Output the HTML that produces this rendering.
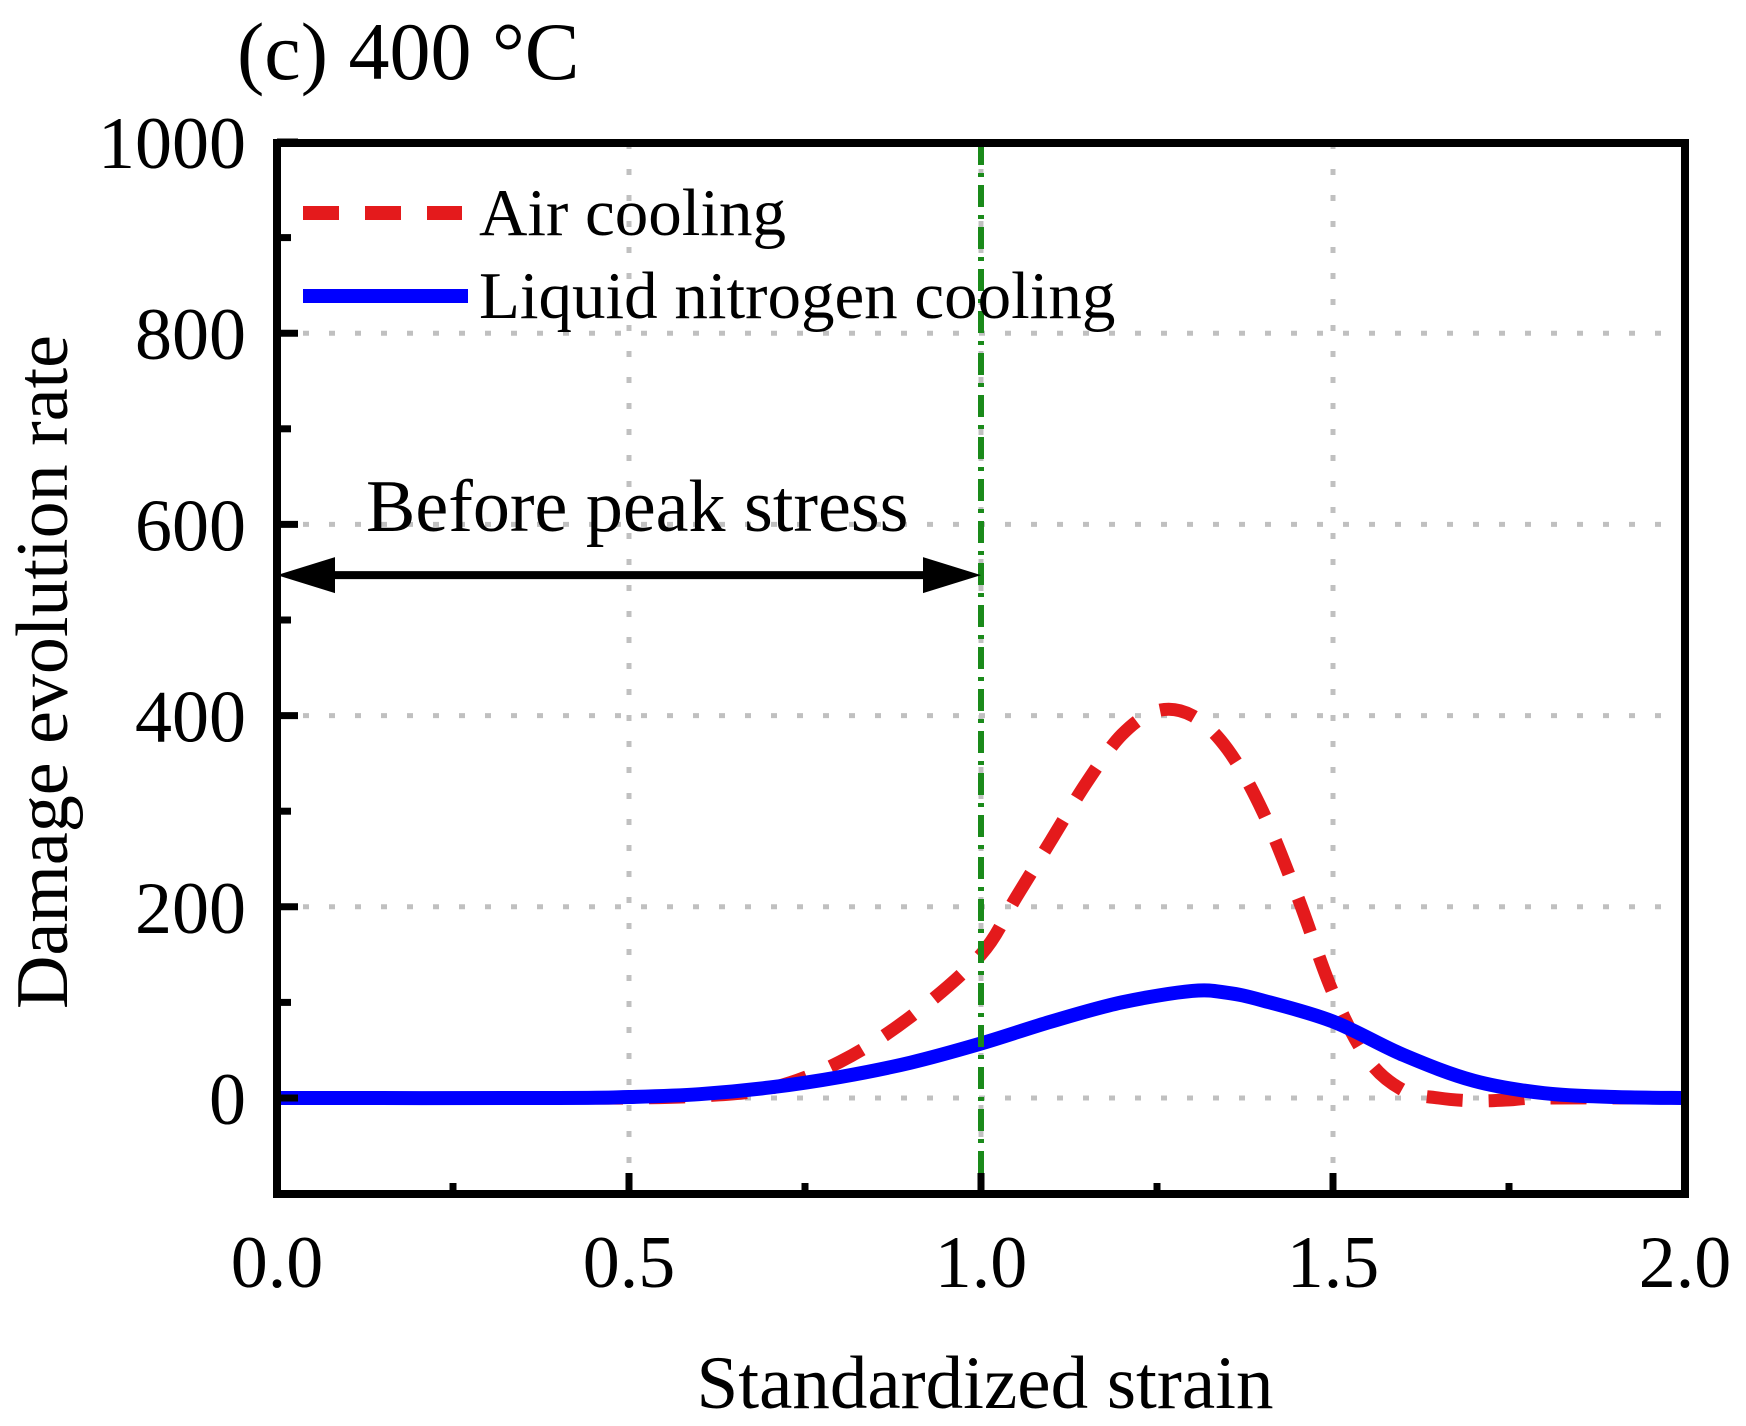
<!DOCTYPE html>
<html><head><meta charset="utf-8"><style>
html,body{margin:0;padding:0;background:#fff;}
svg text{font-family:"Liberation Serif",serif;fill:#000;}
</style></head><body>
<svg id="chart" width="1746" height="1421" viewBox="0 0 1746 1421" xmlns="http://www.w3.org/2000/svg">
<text x="237" y="79" font-size="82">(c) 400 °C</text>
<g id="grid"></g>
<g id="series"></g>
<rect x="277" y="143" width="1408" height="1051" fill="none" stroke="#000" stroke-width="8"/>
<g id="ticks"></g>
<text x="985" y="1408" font-size="75" text-anchor="middle">Standardized strain</text>
<text transform="translate(67,672) rotate(-90)" font-size="74" text-anchor="middle">Damage evolution rate</text>
<g>
<line x1="303" y1="213" x2="462" y2="213" stroke="#e41a1c" stroke-width="14" stroke-dasharray="36,26"/>
<text x="479" y="235" font-size="67">Air cooling</text>
<line x1="303" y1="296" x2="468" y2="296" stroke="#0000ff" stroke-width="14"/>
<text x="479" y="318" font-size="67">Liquid nitrogen cooling</text>
</g>
<text x="366" y="531" font-size="74">Before peak stress</text>
</svg>
<script>
const xTicks=[0,0.5,1.0,1.5,2.0];
const xTickLabels=["0.0","0.5","1.0","1.5","2.0"];
const yTicks=[0,200,400,600,800,1000];
const yTickLabels=["0","200","400","600","800","1000"];
const airX=[0,0.4,0.5,0.6,0.7,0.8,0.9,1.0,1.05,1.1,1.15,1.2,1.25,1.3,1.35,1.4,1.45,1.5,1.55,1.6,1.65,1.7,1.75,1.8,2.0];
const airY=[0,0,0,2,10,38,85,150,210,270,330,380,405,400,365,300,210,110,40,8,0,-3,-2,0,0];
const ln2X=[0,0.4,0.5,0.6,0.7,0.8,0.9,1.0,1.1,1.2,1.3,1.35,1.4,1.5,1.6,1.7,1.8,1.9,2.0];
const ln2Y=[0,0,1,4,11,22,37,57,80,100,112,110,102,80,45,18,5,1,0];
const peakX=1.0, arrowY=547;
const NS="http://www.w3.org/2000/svg";
const X0=277,X1=1685,Y0=1098,YTOP=142,YB=1194,YT=143;
const xs=v=>X0+(v/2)*(X1-X0);
const ys=v=>Y0-(v/1000)*(Y0-YTOP);
function mk(t,a,p){const e=document.createElementNS(NS,t);for(const k in a)e.setAttribute(k,a[k]);p.appendChild(e);return e;}
const grid=document.getElementById('grid'),ser=document.getElementById('series'),tk=document.getElementById('ticks');
[0.5,1.0,1.5].forEach(v=>{const l=mk('line',{x1:xs(v),x2:xs(v),y1:YT,y2:YB,stroke:'#c0c0c0','stroke-width':5,'stroke-dasharray':'6,20'},grid);

});
[0,200,400,600,800].forEach(v=>{const l=mk('line',{x1:X0,x2:X1,y1:ys(v),y2:ys(v),stroke:'#c0c0c0','stroke-width':5,'stroke-dasharray':'6,20'},grid);

});
function smooth(X,Y){let d=`M${xs(X[0])},${ys(Y[0])}`;const P=X.map((x,i)=>[xs(x),ys(Y[i])]);
for(let i=0;i<P.length-1;i++){const p0=P[Math.max(0,i-1)],p1=P[i],p2=P[i+1],p3=P[Math.min(P.length-1,i+2)];
d+=` C${p1[0]+(p2[0]-p0[0])/6},${p1[1]+(p2[1]-p0[1])/6} ${p2[0]-(p3[0]-p1[0])/6},${p2[1]-(p3[1]-p1[1])/6} ${p2[0]},${p2[1]}`;}return d;}
const air=mk('path',{d:smooth(airX,airY),fill:'none',stroke:'#e41a1c','stroke-width':13,'stroke-dasharray':'36,26'},ser);


const ln=mk('path',{d:smooth(ln2X,ln2Y),fill:'none',stroke:'#0000ff','stroke-width':14},ser);


const pk=mk('line',{x1:xs(peakX),x2:xs(peakX),y1:YT,y2:YB,stroke:'#1a8a1a','stroke-width':6,'stroke-dasharray':'22,8,4,8'},ser);


const ya=ys(arrowY);
const ar=mk('line',{x1:xs(0)+50,x2:xs(peakX)-50,y1:ya,y2:ya,stroke:'#000','stroke-width':8},ser);


const h1=mk('polygon',{points:`${xs(0)},${ya} ${xs(0)+58},${ya-18} ${xs(0)+58},${ya+18}`,fill:'#000'},ser);


const h2=mk('polygon',{points:`${xs(peakX)},${ya} ${xs(peakX)-58},${ya-18} ${xs(peakX)-58},${ya+18}`,fill:'#000'},ser);


xTicks.forEach((v,i)=>{const t=mk('text',{x:xs(v),y:1287,'font-size':74,'text-anchor':'middle'},tk);t.textContent=xTickLabels[i];


const l=mk('line',{x1:xs(v),x2:xs(v),y1:YB,y2:YB-21,stroke:'#000','stroke-width':7},tk);

});
[0.25,0.75,1.25,1.75].forEach(v=>{const l=mk('line',{x1:xs(v),x2:xs(v),y1:YB,y2:YB-11,stroke:'#000','stroke-width':7},tk);

});
yTicks.forEach((v,i)=>{const t=mk('text',{x:246,y:ys(v)+26,'font-size':74,'text-anchor':'end'},tk);t.textContent=yTickLabels[i];


const l=mk('line',{x1:X0,x2:X0+21,y1:ys(v),y2:ys(v),stroke:'#000','stroke-width':7},tk);

});
[100,300,500,700,900].forEach(v=>{const l=mk('line',{x1:X0,x2:X0+14,y1:ys(v),y2:ys(v),stroke:'#000','stroke-width':7},tk);

});
</script>
</body></html>
